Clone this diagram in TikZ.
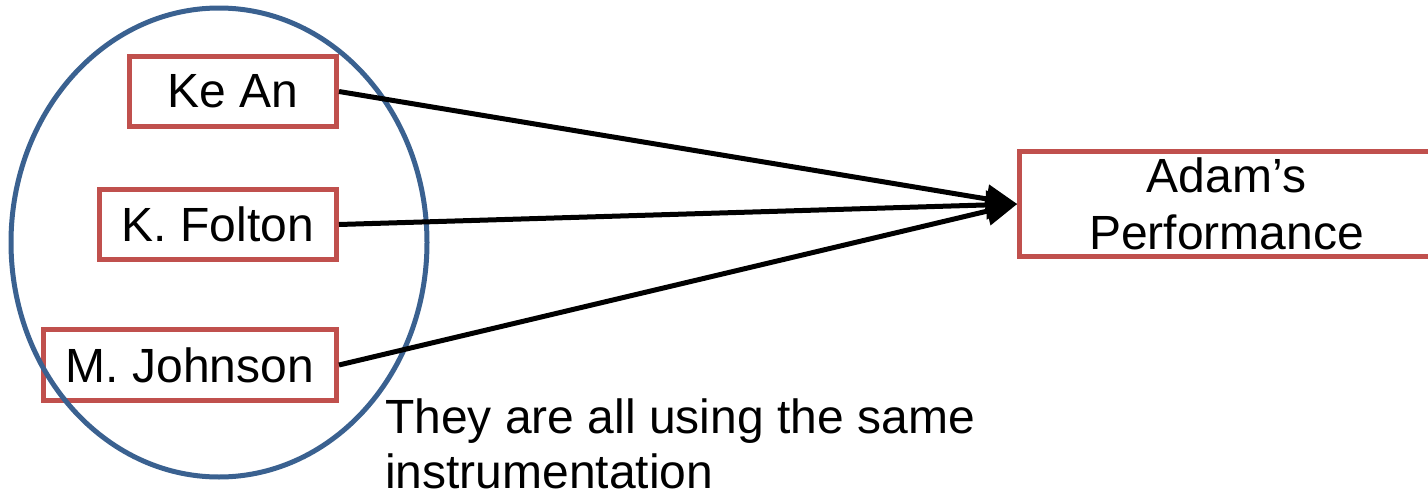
\documentclass[tikz,border=0pt]{standalone}
\usepackage{fontspec}
\setmainfont{Liberation Sans}
\usetikzlibrary{arrows.meta}
\definecolor{boxred}{HTML}{C0504D}
\definecolor{ovalblue}{HTML}{3A6190}
\begin{document}
\begin{tikzpicture}[x=1pt, y=-1pt,
        namebox/.style={draw=boxred, line width=5pt, inner sep=0pt, align=center,
            font=\fontsize{48}{57}\selectfont},
        link/.style={-{Triangle[length=31pt,width=28pt]}, line width=5pt}]
                \useasboundingbox (0,0) rectangle (1428,493);
                % Observers
                \node[namebox, minimum width=207pt, minimum height=70pt] (kean) at (233,91.5) {Ke An};
                \node[namebox, minimum width=237pt, minimum height=70pt] (folton) at (218,224.5) {K. Folton};
                \node[namebox, minimum width=293pt, minimum height=70.5pt] (johnson) at (190,365) {M. Johnson};
                % Target
                \node[namebox, minimum width=413.5pt, minimum height=105pt] (adam) at (1226.5,204) {Adam’s\\Performance};
                % Group oval
                \draw[ovalblue, line width=5pt] (219,242.5) ellipse [x radius=208pt, y radius=234.5pt];
                % Links
                \foreach \n in {kean,folton,johnson}
                    \draw[link] (\n.east) -- (adam.west);
                % Note
                \node[anchor=base west, inner sep=0pt, align=left, font=\fontsize{48}{55}\selectfont] (note) at (385,488)
                    {They are all using the same\\instrumentation};
            \end{tikzpicture}
\end{document}
